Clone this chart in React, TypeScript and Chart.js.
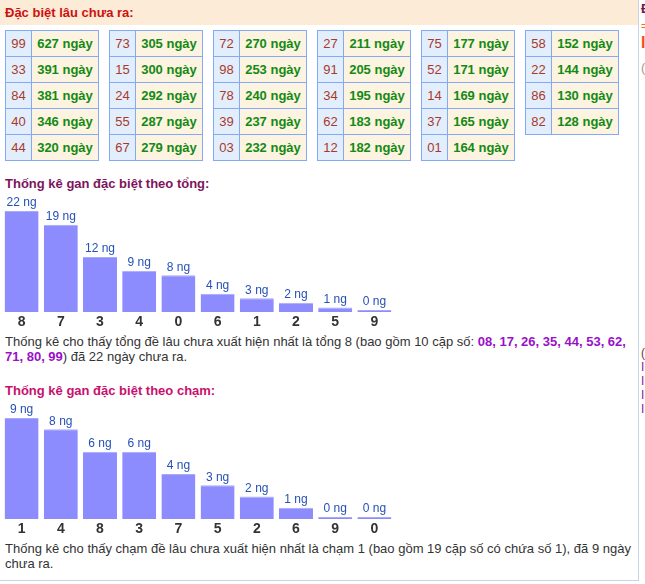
import React, { useEffect, useRef } from 'react';
import { Chart, registerables } from 'chart.js';

Chart.register(...registerables);

const FONT = 'Arial, "Liberation Sans", sans-serif';

// ---- data ----
const ganNumbers = ['99', '33', '84', '40', '44', '73', '15', '24', '55', '67', '72', '98', '78', '39', '03', '27', '91', '34', '62', '12', '75', '52', '14', '37', '01', '58', '22', '86', '82'];
const ganDays = [627, 391, 381, 346, 320, 305, 300, 292, 287, 279, 270, 253, 240, 237, 232, 211, 205, 195, 183, 182, 177, 171, 169, 165, 164, 152, 144, 130, 128];

const tongLabels = ['8', '7', '3', '4', '0', '6', '1', '2', '5', '9'];
const tongValues = [22, 19, 12, 9, 8, 4, 3, 2, 1, 0];
const tongPairs = ['08', '17', '26', '35', '44', '53', '62', '71', '80', '99'];

const chamLabels = ['1', '4', '8', '3', '7', '5', '2', '6', '9', '0'];
const chamValues = [9, 8, 6, 6, 4, 3, 2, 1, 0, 0];

const valueLabelPlugin = {
  id: 'valueLabels',
  afterDatasetsDraw(chart: any) {
    const ctx = chart.ctx;
    const meta = chart.getDatasetMeta(0);
    const data = chart.data.datasets[0].data;
    ctx.save();
    ctx.font = `12px ${FONT}`;
    ctx.fillStyle = '#2650b8';
    ctx.textAlign = 'center';
    ctx.textBaseline = 'middle';
    meta.data.forEach((bar: any, i: number) => {
      ctx.fillText(`${data[i]} ng`, bar.x, bar.y - 8);
    });
    ctx.restore();
  },
};

function BarChart({ labels, values, top }: { labels: string[]; values: number[]; top: number }) {
  const ref = useRef<HTMLCanvasElement>(null);
  useEffect(() => {
    const chart = new Chart(ref.current as HTMLCanvasElement, {
      type: 'bar',
      data: {
        labels,
        datasets: [
          {
            data: values,
            backgroundColor: '#8c8cff',
            borderColor: '#a9a9f6',
            borderWidth: { top: 1, left: 0, right: 0, bottom: 0 },
            minBarLength: 2,
            barPercentage: 0.867,
            categoryPercentage: 1,
          },
        ],
      },
      options: {
        animation: false,
        responsive: false,
        maintainAspectRatio: false,
        layout: { padding: { top: 21, left: 0, right: 0, bottom: 0 } },
        plugins: { legend: { display: false }, tooltip: { enabled: false } },
        scales: {
          x: {
            grid: { display: false, drawTicks: false },
            border: { display: false },
            ticks: { color: '#333', font: { family: FONT, size: 14, weight: 'bold' }, padding: 2 },
            afterFit: (s: any) => {
              s.height = 18;
            },
          },
          y: { display: false, min: 0, max: Math.max(...values) },
        },
      } as any,
      plugins: [valueLabelPlugin],
    });
    return () => chart.destroy();
  }, []);
  return (
    <canvas
      ref={ref}
      width={392}
      height={140}
      style={{ position: 'absolute', left: 2, top, width: 392, height: 140 }}
    />
  );
}

function GanTables() {
  const cells: React.ReactNode[] = [];
  ganNumbers.forEach((n, i) => {
    const g = Math.floor(i / 5);
    const r = i % 5;
    const x = 5 + g * 104;
    const y = 30 + r * 26;
    const base: React.CSSProperties = {
      position: 'absolute',
      top: y,
      height: 27,
      boxSizing: 'border-box',
      border: '1px solid #84a9f6',
      fontSize: 13,
      lineHeight: '25px',
      textAlign: 'center',
    };
    cells.push(
      <div key={'n' + i} style={{ ...base, left: x, width: 27, background: '#e3eefc', color: '#a83a2c' }}>
        {n}
      </div>
    );
    cells.push(
      <div
        key={'d' + i}
        style={{ ...base, left: x + 26, width: 68, background: '#fdf3e1', color: '#138a13', fontWeight: 'bold' }}
      >
        {ganDays[i]} ngày
      </div>
    );
  });
  return <>{cells}</>;
}

const paraStyle: React.CSSProperties = {
  position: 'absolute',
  left: 5,
  width: 628,
  fontSize: 13,
  lineHeight: '15px',
  color: '#333',
};

const titleStyle: React.CSSProperties = {
  position: 'absolute',
  left: 5,
  fontSize: 13,
  lineHeight: '15px',
  fontWeight: 'bold',
};

export default function App() {
  const maxTong = Math.max(...tongValues);
  const topTong = tongLabels[tongValues.indexOf(maxTong)];
  const maxCham = Math.max(...chamValues);
  const topCham = chamLabels[chamValues.indexOf(maxCham)];
  return (
    <div
      style={{
        position: 'absolute',
        left: 0,
        top: 0,
        width: 645,
        height: 584,
        overflow: 'hidden',
        background: '#fff',
        fontFamily: FONT,
      }}
    >
      <div style={{ position: 'absolute', left: 0, top: 0, width: 638, height: 25, background: '#fcebd7' }} />
      <div style={{ position: 'absolute', left: 5, top: 5, fontSize: 13, lineHeight: '15px', fontWeight: 'bold', color: '#cc1111' }}>
        Đặc biệt lâu chưa ra:
      </div>
      <GanTables />

      <div style={{ ...titleStyle, top: 176, color: '#7d145c' }}>Thống kê gan đặc biệt theo tổng:</div>
      <BarChart labels={tongLabels} values={tongValues} top={190} />
      <div style={{ ...paraStyle, top: 334 }}>
        Thống kê cho thấy tổng đề lâu chưa xuất hiện nhất là tổng {topTong} (bao gồm {tongPairs.length} cặp số:{' '}
        <b style={{ color: '#9a10c8' }}>{tongPairs.join(', ')}</b>) đã {maxTong} ngày chưa ra.
      </div>

      <div style={{ ...titleStyle, top: 383, color: '#c8106e' }}>Thống kê gan đặc biệt theo chạm:</div>
      <BarChart labels={chamLabels} values={chamValues} top={397} />
      <div style={{ ...paraStyle, top: 541 }}>
        Thống kê cho thấy chạm đề lâu chưa xuất hiện nhất là chạm {topCham} (bao gồm 19 cặp số có chứa số {topCham}),
        đã {maxCham} ngày chưa ra.
      </div>

      <div style={{ position: 'absolute', left: 0, top: 580, width: 639, height: 1, background: '#c6d4e4' }} />
      <div style={{ position: 'absolute', left: 638, top: 0, width: 1, height: 581, background: '#c6d4e4' }} />

      <div style={{ position: 'absolute', left: 641, top: 1, fontSize: 13, fontWeight: 'bold', color: '#6a1a4a' }}>Đ</div>
      <div style={{ position: 'absolute', left: 641, top: 20, fontSize: 11, color: '#f07020' }}>=</div>
      <div style={{ position: 'absolute', left: 641, top: 34, fontSize: 16, fontWeight: 'bold', color: '#f05020' }}>I</div>
      <div style={{ position: 'absolute', left: 641, top: 60, fontSize: 13, color: '#aa9988' }}>(</div>
      <div style={{ position: 'absolute', left: 641, top: 346, fontSize: 12, lineHeight: '14px', color: '#6a3a2a' }}>
        (<br />
        <span style={{ color: '#8a1a9a' }}>
          I<br />I<br />I<br />I
        </span>
      </div>
    </div>
  );
}
